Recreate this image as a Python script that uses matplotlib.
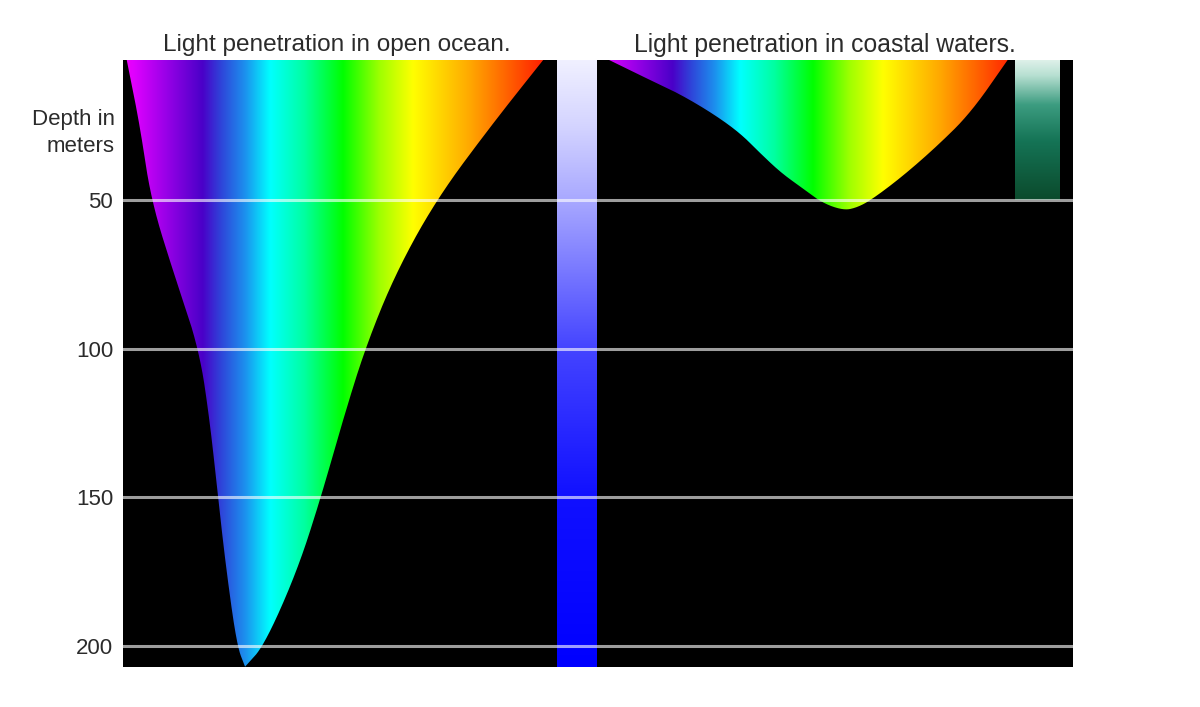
import numpy as np
import matplotlib
matplotlib.use('Agg')
import matplotlib.pyplot as plt
from matplotlib.colors import LinearSegmentedColormap, to_rgb
from matplotlib.path import Path
from matplotlib.patches import PathPatch

plt.rcParams['font.family'] = ['Liberation Sans', 'DejaVu Sans']

# ---------------- data ----------------
title_open = "Light penetration in open ocean."
title_coast = "Light penetration in coastal waters."
axis_label = "Depth in\nmeters"
depth_ticks = [50, 100, 150, 200]

# open ocean: depth (m) and the shortest / longest wavelength (nm) still reaching it
open_depth = [0, 25, 50, 75, 100, 125, 150, 175, 200, 207]
open_short_nm = [381.5, 392.8, 401.1, 418.5, 437.4, 445.7, 451.7, 458.1, 466.0, 472.1]
open_long_nm = [702.3, 657.7, 616.2, 585.3, 562.6, 545.3, 529.4, 511.3, 486.4, 472.1]

# coastal waters: penetration depth (m) per wavelength (nm)
coast_nm = [392, 418, 444, 470, 491, 506, 522, 538, 553, 569, 579, 590, 613, 639, 665, 693]
coast_depth = [2.9, 8.6, 14, 20.8, 27.5, 34.2, 40.9, 46, 51, 53.5, 52.6, 50, 42.3, 32.2, 20.8, 2.9]

# spectrum colour stops (nm -> colour)
spec_nm = [380, 388, 412, 440, 453, 472, 491, 517, 546, 574, 599, 642, 687, 700, 745]
spec_colors = ['#f000f8', '#e000ff', '#9a00e8', '#4a00c8', '#3040d8', '#1c90ee', '#00ffff',
               '#00ffa0', '#00ff00', '#a0ff00', '#ffff00', '#ffa800', '#ff3800', '#ff1800', '#ff1000']

# overall (blue) light column
blue_depth = [0, 25, 50, 100, 150, 207]
blue_colors = ['#f4f4ff', '#d4d4ff', '#a8a8ff', '#4444ff', '#1010ff', '#0000ff']

# coastal (green) light column
green_depth = [0, 8, 18, 30, 50]
green_colors = ['#f4faf7', '#b8e0d2', '#3c9c80', '#157456', '#0b4a2c']
green_nm = [698.5, 732.4]

# ---------------- helpers ----------------
def chaikin(xs, ys, n=6):
    """corner-cutting smoothing of an outline (drawing only, endpoints kept)"""
    p = np.column_stack([xs, ys]).astype(float)
    for _ in range(n):
        q = 0.75 * p[:-1] + 0.25 * p[1:]
        r = 0.25 * p[:-1] + 0.75 * p[1:]
        mid = np.empty((2 * len(q), 2))
        mid[0::2] = q
        mid[1::2] = r
        p = np.vstack([p[:1], mid, p[-1:]])
    return p


def vgrad(stops_d, stops_c, d_max, n=400):
    d = np.linspace(0, d_max, n)
    rgb = np.array([to_rgb(c) for c in stops_c])
    img = np.stack([np.interp(d, stops_d, rgb[:, k]) for k in range(3)], axis=-1)
    return img[:, None, :]


W, H = 1200, 707
D_TOP, D_BOT = 2.93, 207.1


def rect(x0, x1, y0, y1):
    return [x0 / W, 1 - y1 / H, (x1 - x0) / W, (y1 - y0) / H]


fig = plt.figure(figsize=(12, 7.07), dpi=100)
fig.patch.set_facecolor('white')
ax_open = fig.add_axes(rect(123, 557, 60, 667))
ax_blue = fig.add_axes(rect(557, 597, 60, 667))
ax_coast = fig.add_axes(rect(597, 1073, 60, 667))

lo, hi = spec_nm[0], spec_nm[-1]
cmap = LinearSegmentedColormap.from_list(
    'spec', [((v - lo) / (hi - lo), c) for v, c in zip(spec_nm, spec_colors)], N=1024)
grad = np.linspace(0, 1, 1024)[None, :]

for ax in (ax_open, ax_blue, ax_coast):
    ax.set_facecolor('black')
    for s in ax.spines.values():
        s.set_visible(False)
    ax.set_xticks([])

# open ocean shape
left = chaikin(open_short_nm, open_depth)
right = chaikin(open_long_nm, open_depth)[::-1]
verts = np.vstack([left, right, left[:1]])
patch = PathPatch(Path(verts), facecolor='none', edgecolor='none')
ax_open.add_patch(patch)
im = ax_open.imshow(grad, cmap=cmap, extent=[lo, hi, 210, -5], aspect='auto',
                    interpolation='bilinear', zorder=2)
im.set_clip_path(patch)

# coastal shape
cv = chaikin(coast_nm, coast_depth)
cverts = np.vstack([cv, [[coast_nm[-1], -5], [coast_nm[0], -5]], cv[:1]])
cpatch = PathPatch(Path(cverts), facecolor='none', edgecolor='none')
ax_coast.add_patch(cpatch)
im2 = ax_coast.imshow(grad, cmap=cmap, extent=[lo, hi, 210, -5], aspect='auto',
                      interpolation='bilinear', zorder=2)
im2.set_clip_path(cpatch)

# blue column
ax_blue.imshow(vgrad(blue_depth, blue_colors, 210), extent=[0, 1, 210, 0],
               aspect='auto', interpolation='bilinear', zorder=2)
ax_blue.set_yticks([])

# green column
ax_coast.imshow(vgrad(green_depth, green_colors, green_depth[-1]),
                extent=[green_nm[0], green_nm[1], green_depth[-1], 0],
                aspect='auto', interpolation='bilinear', zorder=2)
ax_coast.set_yticks([])

ax_open.set_xlim(380, 707.5)
ax_coast.set_xlim(383.0, 742.3)
ax_blue.set_xlim(0, 1)
for ax in (ax_open, ax_blue, ax_coast):
    ax.set_ylim(D_BOT, D_TOP)

# grid lines
for ax in (ax_open, ax_blue, ax_coast):
    for t in depth_ticks:
        ax.axhline(t, color='white', alpha=0.62, lw=2.2, zorder=5)

# depth ticks
txt_col = '#2b2b2b'
ax_open.set_yticks(depth_ticks)
ax_open.set_yticklabels([str(t) for t in depth_ticks], fontsize=16, color=txt_col)
ax_open.tick_params(axis='y', length=0, pad=7)

ax_open.annotate(axis_label, xy=(0, 27.5), xycoords=('axes fraction', 'data'),
                 xytext=(-6, 0), textcoords='offset points', ha='right', va='center',
                 multialignment='right', fontsize=16, color=txt_col, linespacing=1.38)

fig.text(337 / W, 1 - 45 / H, title_open, ha='center', va='center', fontsize=17.6, color=txt_col)
fig.text(825 / W, 1 - 45 / H, title_coast, ha='center', va='center', fontsize=17.8, color=txt_col)

fig.savefig('out.png', dpi=100, facecolor='white')
